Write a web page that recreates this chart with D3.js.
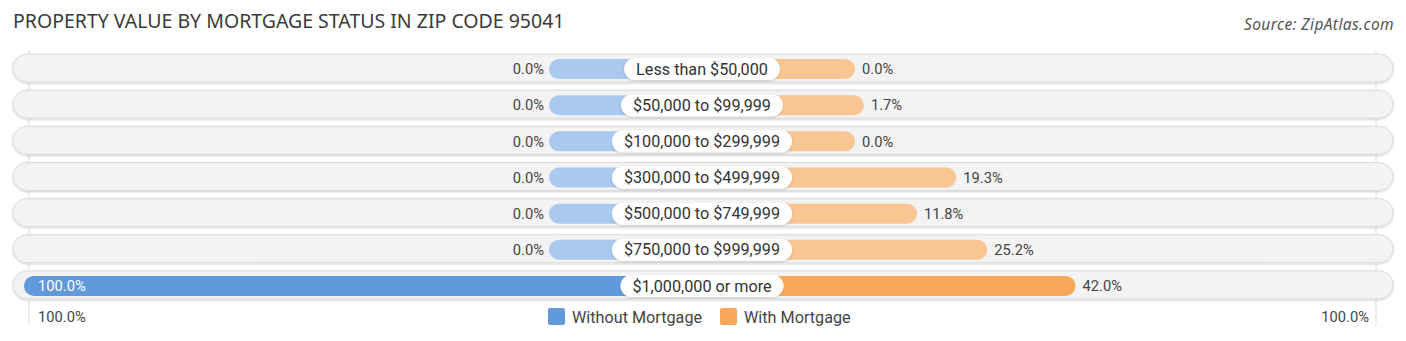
<!DOCTYPE html>
<html>
<head>
<meta charset="utf-8">
<script src="https://cdn.jsdelivr.net/npm/d3@7"></script>
<style>
  html, body { margin: 0; padding: 0; background: #fff; }
  svg { display: block; }
</style>
</head>
<body>
<svg id="chart" width="1406" height="341"></svg>
<script>
const categories = [
  "Less than $50,000",
  "$50,000 to $99,999",
  "$100,000 to $299,999",
  "$300,000 to $499,999",
  "$500,000 to $749,999",
  "$750,000 to $999,999",
  "$1,000,000 or more"
];
const withoutMortgage = [0.0, 0.0, 0.0, 0.0, 0.0, 0.0, 100.0];
const withMortgage = [0.0, 1.7, 0.0, 19.3, 11.8, 25.2, 42.0];
const seriesNames = ["Without Mortgage", "With Mortgage"];
const axisTickLabels = ["100.0%", "100.0%"];

const W = 1406, H = 341;
const cx = 702;
const svg = d3.select("#chart");

const fmt = v => v.toFixed(1) + "%";

// bar length from the center line: a fixed stub plus the value
const len = d3.scaleLinear().domain([0, 100]).range([153, 678]);

const y = d3.scaleBand()
  .domain(categories)
  .range([50, 303])
  .paddingInner(0)
  .paddingOuter(0);

const blueLight = "#aac9ee", blueFull = "#6199da";
const orangeLight = "#f9c593", orangeFull = "#f8a85a";
const maxWithout = d3.max(withoutMortgage), maxWith = d3.max(withMortgage);
const blueColor = v => (v === maxWithout && v > 0) ? blueFull : blueLight;
const orangeColor = v => (v === maxWith && v > 0) ? orangeFull : orangeLight;

const labelFont = "Roboto, 'Liberation Sans', sans-serif";

// Title and source
svg.append("text")
  .attr("x", 13).attr("y", 28)
  .attr("font-family", "'Noto Sans', 'Open Sans', sans-serif")
  .attr("font-size", 19.5)
  .attr("fill", "#3a3a3a")
  .text("PROPERTY VALUE BY MORTGAGE STATUS IN ZIP CODE 95041");

svg.append("text")
  .attr("x", 1394).attr("y", 30)
  .attr("text-anchor", "end")
  .attr("font-family", "'Noto Sans', 'Open Sans', sans-serif")
  .attr("font-style", "italic")
  .attr("font-size", 15.5)
  .attr("letter-spacing", 0.4)
  .attr("fill", "#555")
  .text("Source: ZipAtlas.com");

// faint vertical guide lines at the 100% positions
[cx - len(100) + 5, cx + len(100) - 4].forEach(x => {
  svg.append("line")
    .attr("x1", x).attr("x2", x)
    .attr("y1", 50).attr("y2", 326)
    .attr("stroke", "#dcdcdc").attr("stroke-width", 1);
});

const defs = svg.append("defs");
const sh = defs.append("filter").attr("id", "shadow")
  .attr("x", "-5%").attr("y", "-30%").attr("width", "110%").attr("height", "160%");
sh.append("feDropShadow").attr("dx", 0).attr("dy", 1).attr("stdDeviation", 1)
  .attr("flood-color", "#000").attr("flood-opacity", 0.18);

const rows = svg.selectAll("g.row")
  .data(categories.map((c, i) => ({ c, a: withoutMortgage[i], b: withMortgage[i] })))
  .join("g")
  .attr("class", "row")
  .attr("transform", d => `translate(0, ${y(d.c) + y.bandwidth() / 2})`);

// row background
rows.append("rect")
  .attr("x", 13).attr("y", -14)
  .attr("width", 1380).attr("height", 28)
  .attr("rx", 14)
  .attr("fill", "#f3f3f3")
  .attr("stroke", "#dadada")
  .attr("stroke-width", 1)
  .attr("filter", "url(#shadow)");

const barH = 20;
// left bars (without mortgage)
rows.append("rect")
  .attr("x", d => cx - len(d.a))
  .attr("y", -barH / 2 + 1)
  .attr("width", d => len(d.a))
  .attr("height", barH)
  .attr("rx", 10)
  .attr("fill", d => blueColor(d.a));

// right bars (with mortgage)
rows.append("rect")
  .attr("x", cx)
  .attr("y", -barH / 2 + 1)
  .attr("width", d => len(d.b))
  .attr("height", barH)
  .attr("rx", 10)
  .attr("fill", d => orangeColor(d.b));

// value labels, left side
rows.append("text")
  .attr("x", d => d.a >= 90 ? cx - len(d.a) + 14 : cx - len(d.a) - 5)
  .attr("y", 1)
  .attr("dy", "0.35em")
  .attr("text-anchor", d => d.a >= 90 ? "start" : "end")
  .attr("font-family", labelFont)
  .attr("font-size", 14.7)
  .attr("fill", d => d.a >= 90 ? "#fff" : "#444")
  .text(d => fmt(d.a));

// value labels, right side
rows.append("text")
  .attr("x", d => cx + len(d.b) + 7)
  .attr("y", 1)
  .attr("dy", "0.35em")
  .attr("text-anchor", "start")
  .attr("font-family", labelFont)
  .attr("font-size", 14.7)
  .attr("fill", "#444")
  .text(d => fmt(d.b));

// category pills
rows.each(function (d) {
  const g = d3.select(this);
  const t = g.append("text")
    .attr("x", cx).attr("y", 1)
    .attr("dy", "0.35em")
    .attr("text-anchor", "middle")
    .attr("font-family", labelFont)
    .attr("font-size", 16.2)
    .attr("fill", "#333")
    .text(d.c);
  const w = t.node().getComputedTextLength() + 24;
  g.insert("rect", "text")
    .attr("x", cx - w / 2).attr("y", -11 + 1)
    .attr("width", w).attr("height", 22)
    .attr("rx", 11)
    .attr("fill", "#fff")
    .attr("filter", "url(#shadow)");
});

// bottom axis labels
svg.append("text")
  .attr("x", 38).attr("y", 317).attr("dy", "0.35em")
  .attr("font-family", labelFont).attr("font-size", 14.7).attr("fill", "#444")
  .text(axisTickLabels[0]);
svg.append("text")
  .attr("x", 1369).attr("y", 317).attr("dy", "0.35em")
  .attr("text-anchor", "end")
  .attr("font-family", labelFont).attr("font-size", 14.7).attr("fill", "#444")
  .text(axisTickLabels[1]);

// legend
const legend = [
  { name: seriesNames[0], color: blueFull, x: 548 },
  { name: seriesNames[1], color: orangeFull, x: 720 }
];
const lg = svg.selectAll("g.legend").data(legend).join("g")
  .attr("class", "legend")
  .attr("transform", d => `translate(${d.x}, 308)`);
lg.append("rect")
  .attr("width", 17).attr("height", 17).attr("rx", 2)
  .attr("fill", d => d.color);
lg.append("text")
  .attr("x", 24).attr("y", 9).attr("dy", "0.35em")
  .attr("font-family", labelFont).attr("font-size", 16.2).attr("fill", "#444")
  .text(d => d.name);
</script>
</body>
</html>
